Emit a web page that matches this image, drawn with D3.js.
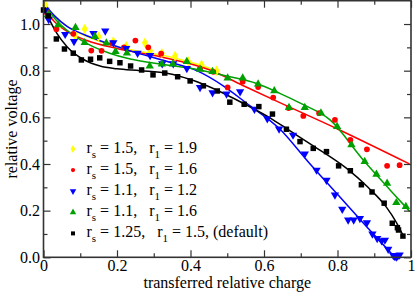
<!DOCTYPE html>
<html><head><meta charset="utf-8">
<script src="https://cdn.jsdelivr.net/npm/d3@7"></script>
<style>
html,body{margin:0;padding:0;background:#fff;}
svg{display:block;font-family:"Liberation Serif","Times New Roman",serif;}
text{white-space:pre;}
</style></head>
<body>
<svg id="c" width="415" height="292"></svg>
<script>
// ---- data ----
const xMajorTicks = [0, 0.2, 0.4, 0.6, 0.8, 1];
const xTickLabels = ["0", "0.2", "0.4", "0.6", "0.8", "1"];
const xMinorTicks = [0.1, 0.3, 0.5, 0.7, 0.9];
const yMajorTicks = [0, 0.2, 0.4, 0.6, 0.8, 1.0];
const yTickLabels = ["0.0", "0.2", "0.4", "0.6", "0.8", "1.0"];
const yMinorTicks = [0.1, 0.3, 0.5, 0.7, 0.9];

const seriesNames = ["yellow", "red", "blue", "green", "black"];
const seriesColors = ["#ffff00", "#ff0000", "#0000ff", "#00a000", "#000000"];
const seriesSymbols = ["diamond", "circle", "triangleDown", "triangleUp", "square"];
const legendRs = ["1.5", "1.5", "1.1", "1.1", "1.25"];
const legendR1 = ["1.9", "1.6", "1.2", "1.6", "1.5, (default)"];

const yellowPoints = [[0.005,1.08],[0.041,0.99],[0.086,0.95],[0.112,0.979],[0.15,0.945],[0.19,0.925],[0.225,0.905],[0.276,0.92],[0.29,0.885],[0.322,0.875],[0.358,0.863],[0.394,0.839],[0.43,0.825],[0.471,0.80]];
const redPoints = [[0.008,1.05],[0.035,0.978],[0.081,0.958],[0.13,0.886],[0.158,0.885],[0.187,0.918],[0.219,0.90],[0.25,0.929],[0.285,0.90],[0.32,0.873],[0.426,0.81],[0.462,0.795],[0.501,0.728],[0.542,0.753],[0.584,0.73],[0.625,0.685],[0.667,0.64],[0.707,0.606],[0.75,0.618],[0.793,0.589],[0.835,0.503],[0.88,0.463],[0.935,0.392],[0.969,0.395]];
const bluePoints = [[0.005,1.06],[0.014,1.02],[0.059,0.956],[0.083,0.925],[0.136,0.96],[0.168,0.97],[0.19,0.92],[0.225,0.895],[0.256,0.875],[0.29,0.865],[0.323,0.83],[0.353,0.83],[0.39,0.81],[0.426,0.728],[0.46,0.706],[0.498,0.70],[0.535,0.71],[0.574,0.635],[0.609,0.594],[0.641,0.55],[0.679,0.524],[0.711,0.443],[0.743,0.374],[0.77,0.331],[0.793,0.267],[0.813,0.206],[0.829,0.16],[0.844,0.16],[0.861,0.167],[0.88,0.148],[0.895,0.10],[0.908,0.081],[0.92,0.071],[0.929,0.074],[0.938,0.035],[0.952,0.008],[0.956,0.004],[0.96,0.002],[0.964,0.006],[0.969,0.01]];
const greenPoints = [[0.012,1.04],[0.04,0.996],[0.087,0.985],[0.112,0.92],[0.14,0.946],[0.171,0.918],[0.196,0.882],[0.227,0.875],[0.289,0.82],[0.322,0.828],[0.352,0.828],[0.39,0.839],[0.426,0.806],[0.46,0.796],[0.501,0.768],[0.542,0.768],[0.584,0.743],[0.628,0.714],[0.668,0.642],[0.711,0.642],[0.755,0.618],[0.799,0.56],[0.838,0.482],[0.874,0.41],[0.906,0.356],[0.935,0.317],[0.96,0.234],[0.986,0.217]];
const blackPoints = [[0.0,1.06],[0.013,1.035],[0.035,0.936],[0.057,0.893],[0.081,0.875],[0.103,0.846],[0.128,0.849],[0.153,0.855],[0.18,0.84],[0.208,0.834],[0.237,0.82],[0.267,0.803],[0.298,0.782],[0.33,0.79],[0.365,0.774],[0.399,0.756],[0.435,0.735],[0.473,0.713],[0.507,0.665],[0.546,0.656],[0.586,0.646],[0.623,0.614],[0.661,0.549],[0.698,0.496],[0.734,0.467],[0.77,0.453],[0.803,0.392],[0.835,0.371],[0.865,0.311],[0.894,0.28],[0.927,0.232],[0.949,0.146],[0.963,0.127],[0.966,0.117],[0.978,0.091]];

const yellowCurveX = [0, 0.03, 0.07, 0.12, 0.18, 0.236, 0.317, 0.38, 0.435, 0.476];
const yellowCurveY = [1.09, 1.035, 0.985, 0.945, 0.912, 0.89, 0.868, 0.845, 0.82, 0.796];
const redCurveX = [0, 0.03, 0.07, 0.12, 0.2, 0.317, 0.453, 0.55, 0.643, 0.8, 0.996];
const redCurveY = [1.07, 1.01, 0.963, 0.928, 0.895, 0.86, 0.803, 0.731, 0.663, 0.55, 0.40];
const blueCurveX = [0, 0.03, 0.064, 0.11, 0.154, 0.236, 0.339, 0.417, 0.489, 0.553, 0.643, 0.72, 0.80, 0.88, 0.956];
const blueCurveY = [1.09, 1.035, 0.99, 0.955, 0.928, 0.885, 0.838, 0.80, 0.735, 0.66, 0.55, 0.41, 0.27, 0.13, 0.0];
const greenCurveX = [0, 0.03, 0.07, 0.12, 0.18, 0.236, 0.317, 0.4, 0.498, 0.58, 0.643, 0.70, 0.779, 0.87, 0.943, 0.997];
const greenCurveY = [1.09, 1.025, 0.965, 0.915, 0.875, 0.85, 0.829, 0.81, 0.777, 0.745, 0.703, 0.66, 0.59, 0.417, 0.289, 0.196];
const blackCurveX = [0, 0.014, 0.036, 0.064, 0.109, 0.154, 0.2, 0.263, 0.339, 0.4, 0.435, 0.498, 0.553, 0.616, 0.670, 0.734, 0.824, 0.883, 0.933, 0.96, 0.978];
const blackCurveY = [1.075, 1.025, 0.961, 0.903, 0.848, 0.82, 0.808, 0.8, 0.788, 0.762, 0.742, 0.697, 0.652, 0.598, 0.543, 0.478, 0.382, 0.3, 0.215, 0.15, 0.095];

const pointsBySeries = [yellowPoints, redPoints, bluePoints, greenPoints, blackPoints];
const curvesBySeries = [[yellowCurveX, yellowCurveY],[redCurveX, redCurveY],[blueCurveX, blueCurveY],[greenCurveX, greenCurveY],[blackCurveX, blackCurveY]];

// ---- layout ----
const L = 43.5, R = 411, T = 0.7, B = 257.3;
const x = d3.scaleLinear().domain([0, 1]).range([L, R]);
const y = d3.scaleLinear().domain([0, 1.1]).range([B, T]);
const svg = d3.select("#c");
const fs = 16;

function sym(name, size) {
  const t = {diamond: d3.symbolDiamond, circle: d3.symbolCircle, triangleDown: d3.symbolTriangle,
             triangleUp: d3.symbolTriangle, square: d3.symbolSquare}[name];
  return d3.symbol().type(t).size(size)();
}
const plotSizes = {diamond: 32, circle: 26, triangleDown: 30, triangleUp: 30, square: 30};
const legSizes = {diamond: 18, circle: 14, triangleDown: 18, triangleUp: 18, square: 16};

// curves and points
const line = d3.line().x(d => x(d[0])).y(d => y(d[1])).curve(d3.curveMonotoneX);
const gData = svg.append("g");
seriesNames.forEach((n, i) => {
  const [cx, cy] = curvesBySeries[i];
  const pts = cx.map((v, k) => [v, cy[k]]);
  gData.append("path").attr("d", line(pts)).attr("fill", "none")
    .attr("stroke", seriesColors[i]).attr("stroke-width", 1.5);
});
seriesNames.forEach((n, i) => {
  const s = seriesSymbols[i];
  gData.selectAll(null).data(pointsBySeries[i]).enter().append("path")
    .attr("d", sym(s, plotSizes[s]))
    .attr("transform", d => `translate(${x(d[0])},${y(d[1])})` + (s === "triangleDown" ? " rotate(180)" : ""))
    .attr("fill", seriesColors[i]);
});

// axes
function styleAxis(g) {
  g.attr("font-family", "Liberation Serif").attr("font-size", fs);
  g.select(".domain").remove();
  g.selectAll(".tick line").attr("stroke", "#333").attr("stroke-width", 1.2);
  g.selectAll("text").attr("font-family", "Liberation Serif").attr("font-size", fs).attr("fill", "#000");
}
svg.append("g").attr("transform", `translate(0,${B})`)
  .call(d3.axisBottom(x).tickValues(xMajorTicks).tickSize(-7).tickPadding(2.5).tickFormat((d, i) => xTickLabels[i]))
  .call(styleAxis);
svg.append("g").attr("transform", `translate(0,${B})`)
  .call(d3.axisBottom(x).tickValues(xMinorTicks).tickSize(-4).tickFormat(""))
  .call(styleAxis);
svg.append("g").attr("transform", `translate(0,${T})`)
  .call(d3.axisTop(x).tickValues(xMajorTicks).tickSize(-7).tickFormat(""))
  .call(styleAxis);
svg.append("g").attr("transform", `translate(0,${T})`)
  .call(d3.axisTop(x).tickValues(xMinorTicks).tickSize(-4).tickFormat(""))
  .call(styleAxis);
svg.append("g").attr("transform", `translate(${L},0)`)
  .call(d3.axisLeft(y).tickValues(yMajorTicks).tickSize(-7).tickPadding(3.5).tickFormat((d, i) => yTickLabels[i]))
  .call(styleAxis);
svg.append("g").attr("transform", `translate(${L},0)`)
  .call(d3.axisLeft(y).tickValues(yMinorTicks).tickSize(-4).tickFormat(""))
  .call(styleAxis);
svg.append("g").attr("transform", `translate(${R},0)`)
  .call(d3.axisRight(y).tickValues(yMajorTicks).tickSize(-7).tickFormat(""))
  .call(styleAxis);
svg.append("g").attr("transform", `translate(${R},0)`)
  .call(d3.axisRight(y).tickValues(yMinorTicks).tickSize(-4).tickFormat(""))
  .call(styleAxis);

svg.append("rect").attr("x", L).attr("y", T).attr("width", R - L).attr("height", B - T)
  .attr("fill", "none").attr("stroke", "#333").attr("stroke-width", 1.6);

// axis titles
svg.append("text").attr("x", (L + R) / 2).attr("y", 287.5).attr("text-anchor", "middle")
  .attr("font-size", fs).text("transferred relative charge");
svg.append("text").attr("transform", `translate(17,${(T + B) / 2}) rotate(-90)`)
  .attr("text-anchor", "middle").attr("font-size", fs).text("relative voltage");

// legend
const legY0 = 149, legDy = 21.1, legMX = 73, legTX = 86.5;
seriesNames.forEach((n, i) => {
  const yy = legY0 + i * legDy;
  const s = seriesSymbols[i];
  svg.append("path").attr("d", sym(s, legSizes[s]))
    .attr("transform", `translate(${legMX},${yy})` + (s === "triangleDown" ? " rotate(180)" : ""))
    .attr("fill", seriesColors[i]);
  const t = svg.append("text").attr("x", legTX).attr("y", yy + 3.5).attr("font-size", fs);
  t.append("tspan").text("r");
  t.append("tspan").attr("font-size", 11).attr("dy", 5).text("s");
  t.append("tspan").attr("dy", -5).text(" = " + legendRs[i] + ",   r");
  t.append("tspan").attr("font-size", 11).attr("dy", 5).text("1");
  t.append("tspan").attr("dy", -5).text(" = " + legendR1[i]);
});
</script>
</body></html>
